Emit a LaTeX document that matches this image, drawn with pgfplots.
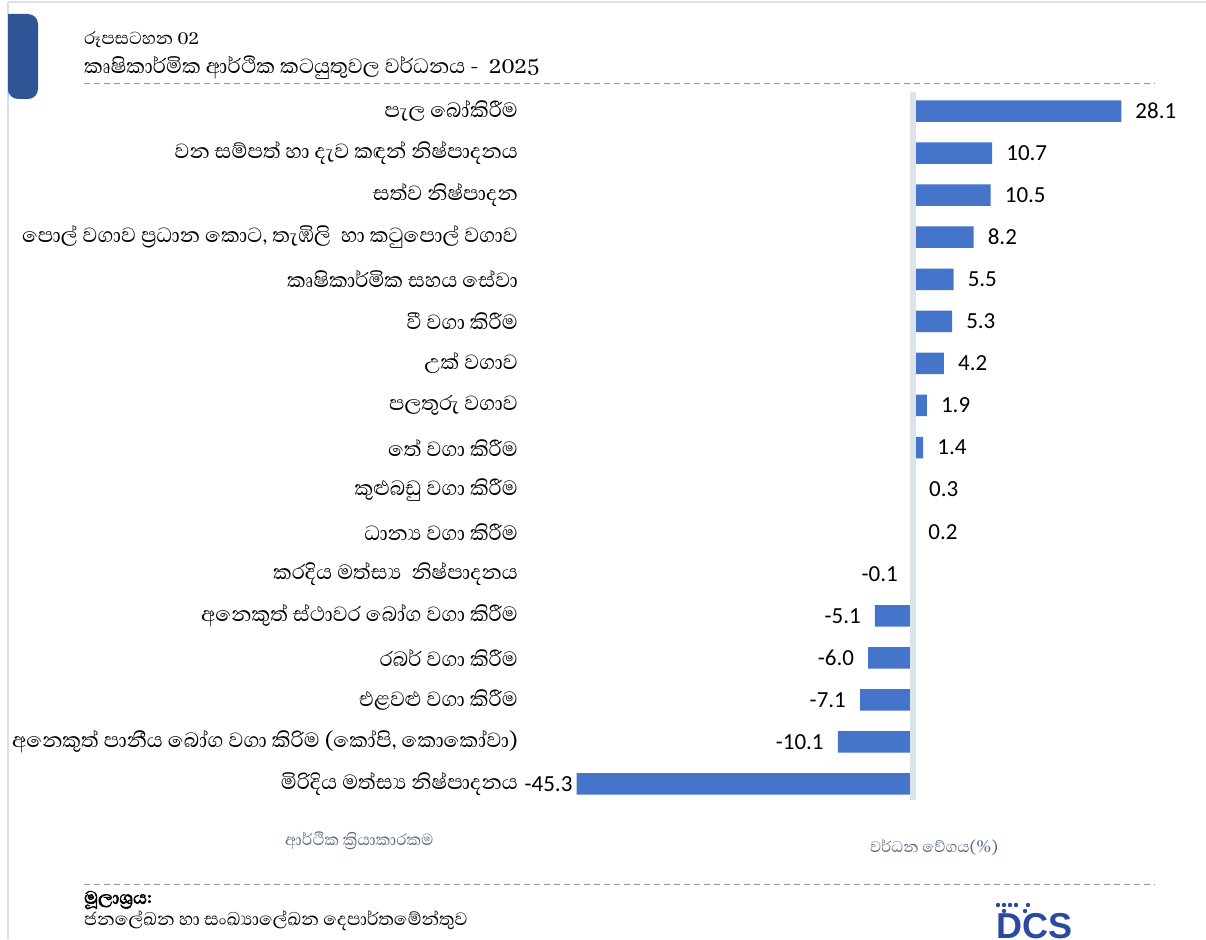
\documentclass[border=0pt]{standalone}
\usepackage{fontspec}
\setmainfont{Carlito}
\newfontfamily\sinhalafont[Script=Sinhala]{Abhaya Libre}
\newfontfamily\sinhalabold[Script=Sinhala, FakeBold=2.5]{Abhaya Libre}
\usepackage{pgfplots}
\pgfplotsset{compat=1.18}
\definecolor{barMid}{HTML}{4574CB}
\definecolor{zeroGrey}{HTML}{DDE3EB}
\definecolor{frameGrey}{HTML}{DCDFE5}
\definecolor{dashGrey}{HTML}{9A9A9A}
\definecolor{boxBlue}{HTML}{2F5597}
\definecolor{labGrey}{HTML}{5A6A86}
\definecolor{logoBlue}{HTML}{2B4A9E}
\begin{document}
\begin{tikzpicture}[x=1pt,y=1pt]
\clip (0,0) rectangle (1206,-939);
\fill[white] (0,0) rectangle (1206,-939);
% frame
\draw[frameGrey, line width=2pt] (8,-2) -- (1206,-2);
\draw[frameGrey, line width=2pt] (8,-2) -- (8,-939);
% blue tab
\fill[boxBlue] (8,-99) -- (8,-14) [rounded corners=10pt] -- (38,-14) -- (38,-99) -- (8,-99) [sharp corners] -- cycle;
% titles
\node[anchor=west, inner sep=0pt, font=\sinhalafont\fontsize{22.4}{22.4}\selectfont] at (84,-40) {රූපසටහන 02};
\node[anchor=west, inner sep=0pt, font=\sinhalafont\fontsize{26.4}{26.4}\selectfont] at (84,-68) {කෘෂිකාර්මික ආර්ථික කටයුතුවල වර්ධනය -~ 2025};
\draw[dashGrey, line width=1pt, dash pattern=on 6pt off 4pt] (84,-84) -- (1155,-84);
\draw[dashGrey, line width=1pt, dash pattern=on 6pt off 4pt] (84,-884) -- (1155,-884);
\begin{axis}[at={(521pt,-90pt)}, anchor=north west, scale only axis,
  width=673.7pt, height=715pt,
  xmin=-52.8, xmax=38, ymin=-0.5, ymax=16.5, y dir=reverse,
  axis line style={draw=none}, major tick length=0pt,
  xtick=\empty, ytick={0,...,16},
  yticklabel style={font=\sinhalafont\fontsize{26.3}{26.3}\selectfont, inner sep=0pt, xshift=-3pt, text=black},
  yticklabels={{පැල බෝකිරීම\hspace{6pt}},
    {වන සම්පත් හා දැව කඳන් නිෂ්පාදනය},
    {සත්ව නිෂ්පාදන},
    {පොල් වගාව ප්^^^^200dරධාන කොට, තැඹිලි~ හා කටුපොල් වගාව},
    {කෘෂිකාර්මික සහය සේවා},
    {වී වගා කිරීම},
    {උක් වගාව},
    {පලතුරු වගාව},
    {තේ වගා කිරීම},
    {කුළුබඩු වගා කිරීම},
    {ධාන්^^^^200dය වගා කිරීම\hspace{6pt}},
    {කරදිය මත්ස්^^^^200dය~ නිෂ්පාදනය\hspace{5pt}},
    {අනෙකුත් ස්ථාවර බෝග වගා කිරීම},
    {රබර් වගා කිරීම},
    {එළවළු වගා කිරීම},
    {අනෙකුත් පානීය බෝග වගා කිරිම (කෝපි, කොකෝවා)},
    {මිරිදිය මත්ස්^^^^200dය නිෂ්පාදනය}},
  clip=false,
  xbar, bar width=21.5pt,
  nodes near coords,
  nodes near coords align={horizontal},
  visualization depends on={rawx \as \myx},
  every node near coord/.append style={font=\fontsize{23}{23}\selectfont, text=black, inner xsep=14pt, inner ysep=0pt,
     xshift={ifthenelse(\myx<-40,10,0)*1pt}},
  /pgf/number format/.cd, fixed, fixed zerofill, precision=1, assume math mode=true,
]
\addplot[draw=none, fill=barMid] coordinates {
(28.1,0) (10.7,1) (10.5,2) (8.2,3) (5.5,4) (5.3,5) (4.2,6) (1.9,7) (1.4,8)
(0.3,9) (0.2,10) (-0.1,11) (-5.1,12) (-6.0,13) (-7.1,14) (-10.1,15) (-45.3,16)};
\draw[zeroGrey, line width=6pt] (axis cs:0,-0.45) -- (axis cs:0,16.38);
\end{axis}
% axis titles
\node[anchor=west, inner sep=0pt, text=labGrey, font=\sinhalafont\fontsize{20.5}{20.5}\selectfont] at (285,-841) {ආර්ථික ක්^^^^200dරියාකාරකම};
\node[anchor=west, inner sep=0pt, text=labGrey, font=\sinhalafont\fontsize{19.8}{19.8}\selectfont] at (870,-848) {වර්ධන වේගය(\%)};
% source
\node[anchor=west, inner sep=0pt, font=\sinhalabold\fontsize{23}{23}\selectfont] at (84,-900) {මූලාශ්^^^^200dරය:};
\node[anchor=west, inner sep=0pt, font=\sinhalafont\fontsize{22.9}{22.9}\selectfont] at (84,-921) {ජනලේඛන හා සංඛ්^^^^200dයාලේඛන දෙපාර්තමේන්තුව};
% logo
\node[anchor=north west, inner sep=0pt, text=logoBlue, font=\fontspec{Liberation Sans}\bfseries\fontsize{36}{36}\selectfont] at (996,-913) {DCS};
\foreach \px in {998,1004,1010,1016,1028} \fill[logoBlue] (\px,-905) circle (2.2);
\foreach \px in {1004,1025} \fill[logoBlue] (\px,-911) circle (2.2);
\end{tikzpicture}
\end{document}
